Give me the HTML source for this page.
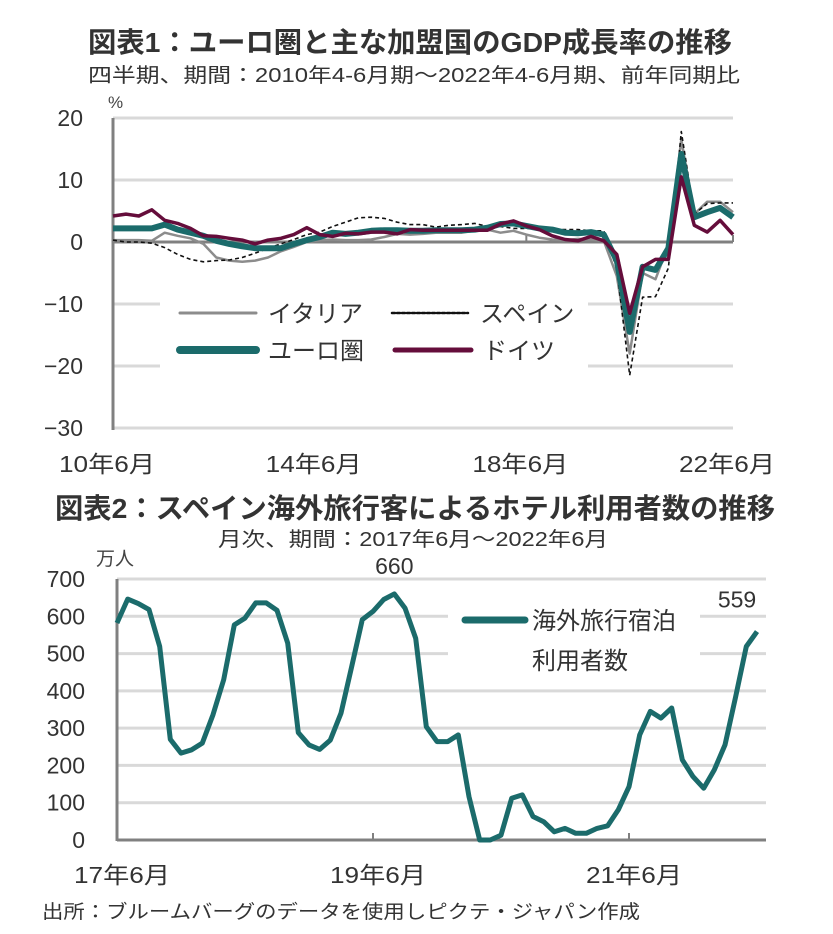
<!DOCTYPE html>
<html><head><meta charset="utf-8">
<style>
html,body{margin:0;padding:0;background:#fff;}
svg{display:block;font-family:"Liberation Sans","Noto Sans CJK JP",sans-serif;}
</style></head>
<body>
<svg id="s" width="833" height="934" viewBox="0 0 833 934" xmlns="http://www.w3.org/2000/svg">
<text x="88" y="52" font-size="28" font-weight="bold" fill="#333" textLength="644" lengthAdjust="spacingAndGlyphs">図表1：ユーロ圏と主な加盟国のGDP成長率の推移</text>
<text x="88" y="82" font-size="20" fill="#333" textLength="652" lengthAdjust="spacingAndGlyphs">四半期、期間：2010年4-6月期～2022年4-6月期、前年同期比</text>
<text x="108" y="108" font-size="17" fill="#444">%</text>
<g id="c1"></g>
<text x="55" y="518" font-size="28" font-weight="bold" fill="#333" textLength="720" lengthAdjust="spacingAndGlyphs">図表2：スペイン海外旅行客によるホテル利用者数の推移</text>
<text x="218" y="546" font-size="20" fill="#333" textLength="390" lengthAdjust="spacingAndGlyphs">月次、期間：2017年6月～2022年6月</text>
<text x="96" y="565" font-size="19" fill="#444">万人</text>
<g id="c2"></g>
<text x="42" y="918" font-size="19" fill="#333" textLength="598" lengthAdjust="spacingAndGlyphs">出所：ブルームバーグのデータを使用しピクテ・ジャパン作成</text>
</svg>
<script>
// Chart 1 data (quarterly, 2010Q2..2022Q2, YoY %)
const c1Ticks = [20, 10, 0, -10, -20, -30];
const c1XLabels = ["10年6月", "14年6月", "18年6月", "22年6月"];
const c1XLabelIdx = [0, 16, 32, 48];
const euro = [2.2,2.2,2.2,2.2,2.8,2.0,1.5,1.0,0.2,-0.3,-0.7,-1.0,-1.0,-1.0,-0.3,0.3,0.8,1.5,1.3,1.5,1.8,1.9,1.9,1.8,1.8,1.9,1.9,1.9,2.0,2.3,2.9,3.0,2.6,2.2,2.0,1.5,1.4,1.6,1.2,-3.0,-14.5,-4.0,-4.5,-1.0,14.2,4.0,4.8,5.5,4.0];
const germany = [4.2,4.5,4.2,5.2,3.5,3.0,2.2,1.0,0.9,0.6,0.3,-0.3,0.3,0.6,1.2,2.3,1.2,0.9,1.4,1.3,1.6,1.6,1.3,2.0,1.9,1.9,1.9,1.9,1.9,1.9,2.9,3.4,2.6,2.0,1.0,0.4,0.2,0.9,0.2,-2.0,-11.5,-4.0,-2.8,-2.8,10.5,2.7,1.6,3.5,1.2];
const italy = [0.3,0.3,0.3,0.2,1.5,1.0,0.6,-0.3,-2.5,-3.0,-3.2,-3.0,-2.5,-1.5,-0.8,0.0,0.3,0.4,0.3,0.3,0.4,0.8,1.3,1.2,1.3,1.5,1.5,1.5,1.8,2.0,1.5,1.8,1.2,0.7,0.4,0.3,0.5,0.4,0.2,-5.5,-18.0,-5.0,-6.0,-0.5,16.5,4.5,6.5,6.5,4.8];
const spain = [0.3,0.0,0.0,-0.2,-0.9,-2.0,-2.8,-3.2,-3.0,-2.9,-2.5,-1.8,-1.0,-0.3,0.4,1.2,1.6,2.5,3.2,3.9,4.0,3.8,3.2,2.8,2.8,2.4,2.7,2.8,3.0,2.5,2.5,2.2,2.2,2.2,2.0,2.0,2.0,1.8,1.8,-4.3,-21.5,-8.9,-8.8,-4.2,17.8,4.5,6.2,6.3,6.3];
// Chart 2 data (monthly, 2017-06..2022-06, 10k persons)
const c2Ticks = [700,600,500,400,300,200,100,0];
const c2XLabels = ["17年6月", "19年6月", "21年6月"];
const c2XLabelIdx = [0, 24, 48];
const hotel = [582,646,634,618,519,270,233,242,260,336,430,577,595,636,636,616,528,288,255,243,268,340,465,591,613,645,660,622,541,304,264,264,282,116,0,0,13,112,121,63,49,22,31,18,18,31,38,81,143,282,345,327,354,215,170,139,188,255,385,519,559];
const c2Annot = [{i:26, t:"660"}, {i:60, t:"559"}];

const NS = "http://www.w3.org/2000/svg";
function mk(parent, tag, attrs){ const e=document.createElementNS(NS,tag); for(const k in attrs) e.setAttribute(k,attrs[k]); parent.appendChild(e); return e; }

// ---- Chart 1 ----
const g1 = document.getElementById('c1');
const x1 = i => 113 + i*(620/48);
const y1 = v => 242 - v*6.2;
c1Ticks.forEach(t=>{
  const gl = mk(g1,'line',{x1:113,x2:733,y1:y1(t),y2:y1(t),stroke: t===0?'#808080':'#d9d9d9','stroke-width':3});
  
  
  const tl = mk(g1,'text',{x:83,y:y1(t)+8,'font-size':23,fill:'#333','text-anchor':'end'});
  tl.textContent = (t<0?'−':'')+Math.abs(t);
  
  
});
c1XLabelIdx.forEach((idx,k)=>{
  const tk = mk(g1,'line',{x1:x1(idx),x2:x1(idx),y1:242,y2:235,stroke:'#808080','stroke-width':2});
  
  
  const tl = mk(g1,'text',{x:x1(idx)-6,y:472,'font-size':23,fill:'#333','text-anchor':'middle',textLength:96,lengthAdjust:'spacingAndGlyphs'});
  tl.textContent = c1XLabels[k];
  
  
});
// legend background
const lb = mk(g1,'rect',{x:160,y:292,width:428,height:78,fill:'#fff'});


const ax1 = mk(g1,'line',{x1:113,x2:113,y1:118,y2:430,stroke:'#808080','stroke-width':3});


function series1(arr,name,color,w,dash){
  const d = arr.map((v,i)=>(i?'L':'M')+x1(i).toFixed(1)+','+y1(v).toFixed(1)).join('');
  const p = mk(g1,'path',{d:d,fill:'none',stroke:color,'stroke-width':w,'stroke-linejoin':'round'});
  if(dash) p.setAttribute('stroke-dasharray',dash);
  
  
}
series1(italy,'series-italy','#8c8c8c',2.5);
series1(spain,'series-spain','#111',1.6,'4,3');
series1(euro,'series-eurozone','#1b6b6b',6);
series1(germany,'series-germany','#650d3b',3.5);
function leg1(x,y,color,w,dash,label,name){
  const l = mk(g1,'line',{x1:x,x2:x+76,y1:y,y2:y,stroke:color,'stroke-width':w,'stroke-linecap':'round'});
  if(dash) l.setAttribute('stroke-dasharray',dash);
  
  
  const t = mk(g1,'text',{x:x+88,y:y+9,'font-size':24,fill:'#333'});
  t.textContent = label;
  
  
}
leg1(180,313,'#8c8c8c',3,null,'イタリア','legend-italy');
leg1(392,313,'#111',2.5,'3,2','スペイン','legend-spain');
leg1(180,350,'#1b6b6b',8,null,'ユーロ圏','legend-eurozone');
leg1(395,350,'#650d3b',5,null,'ドイツ','legend-germany');

// ---- Chart 2 ----
const g2 = document.getElementById('c2');
const x2 = i => 117 + i*(640/60);
const y2 = v => 840 - v*(261/700);
c2Ticks.forEach(t=>{
  if(t>0){
    const gl = mk(g2,'line',{x1:117,x2:766,y1:y2(t),y2:y2(t),stroke:'#d9d9d9','stroke-width':3});
    
    
  }
  const tl = mk(g2,'text',{x:85,y:y2(t)+8,'font-size':23,fill:'#333','text-anchor':'end'});
  tl.textContent = t;
  
  
});
const lb2 = mk(g2,'rect',{x:448,y:598,width:252,height:84,fill:'#fff'});


const base = mk(g2,'line',{x1:117,x2:766,y1:840,y2:840,stroke:'#808080','stroke-width':3});


const ax2 = mk(g2,'line',{x1:117,x2:117,y1:579,y2:841,stroke:'#808080','stroke-width':3});


c2XLabelIdx.forEach((idx,k)=>{
  const tk = mk(g2,'line',{x1:x2(idx),x2:x2(idx),y1:840,y2:833,stroke:'#808080','stroke-width':2});
  
  
  const tl = mk(g2,'text',{x:x2(idx)+5,y:883,'font-size':23,fill:'#333','text-anchor':'middle',textLength:96,lengthAdjust:'spacingAndGlyphs'});
  tl.textContent = c2XLabels[k];
  
  
});
const d2 = hotel.map((v,i)=>(i?'L':'M')+x2(i).toFixed(1)+','+y2(v).toFixed(1)).join('');
const p2 = mk(g2,'path',{d:d2,fill:'none',stroke:'#1b6b6b','stroke-width':5,'stroke-linejoin':'round'});


c2Annot.forEach(a=>{
  const t = mk(g2,'text',{x:x2(a.i)+(a.i===60?-20:0),y:y2(hotel[a.i])-20-(a.i===60?4:0),'font-size':23,fill:'#333','text-anchor':'middle'});
  t.textContent = a.t;
  
  
});
const ls = mk(g2,'line',{x1:465,x2:525,y1:620,y2:620,stroke:'#1b6b6b','stroke-width':7,'stroke-linecap':'round'});


const lt1 = mk(g2,'text',{x:532,y:629,'font-size':24,fill:'#333'});
lt1.textContent='海外旅行宿泊';


const lt2 = mk(g2,'text',{x:532,y:669,'font-size':24,fill:'#333'});
lt2.textContent='利用者数';


</script>
</body></html>
